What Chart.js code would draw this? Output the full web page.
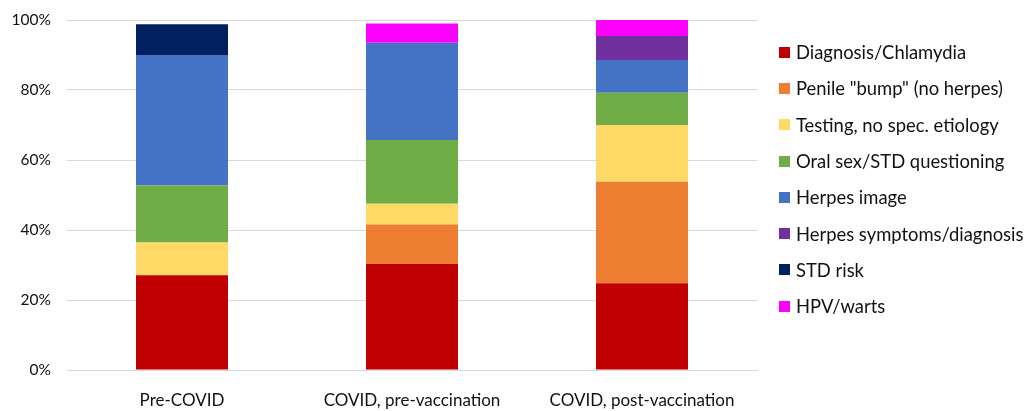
<!DOCTYPE html>
<html>
<head>
<meta charset="utf-8">
<script src="https://cdn.jsdelivr.net/npm/chart.js@4"></script>
<style>
  html, body { margin: 0; padding: 0; background: #fff; }
  #wrap { position: relative; width: 1026px; height: 411px; }
  #legend { position: absolute; left: 779px; top: 34px; margin: 0; padding: 0; list-style: none;
            font-family: Lato, sans-serif; font-size: 18.4px; color: #111; }
  #legend li { height: 36.3px; display: flex; align-items: center; white-space: nowrap; }
  #legend span.box { width: 11px; height: 11px; margin-right: 6px; display: inline-block; }
</style>
</head>
<body>
<div id="wrap">
  <canvas id="chart" width="1026" height="411"></canvas>
  <ul id="legend"></ul>
</div>
<script>
// Категории и значения (в процентах)
const categories = ["Pre-COVID", "COVID, pre-vaccination", "COVID, post-vaccination"];
const diagnosis = [27.1, 30.3, 24.8];
const penileBump = [0, 11.3, 29.0];
const testing = [9.3, 5.9, 16.2];
const oralSex = [16.3, 18.2, 9.2];
const herpesImage = [37.3, 27.8, 9.4];
const herpesSymptoms = [0, 0, 6.8];
const stdRisk = [8.8, 0, 0];
const hpvWarts = [0, 5.5, 4.6];
const yTicks = [0, 20, 40, 60, 80, 100];

const series = [
  { label: "Diagnosis/Chlamydia", data: diagnosis, color: "#C00000" },
  { label: 'Penile "bump" (no herpes)', data: penileBump, color: "#ED7D31" },
  { label: "Testing, no spec. etiology", data: testing, color: "#FFD966" },
  { label: "Oral sex/STD questioning", data: oralSex, color: "#70AD47" },
  { label: "Herpes image", data: herpesImage, color: "#4472C4" },
  { label: "Herpes symptoms/diagnosis", data: herpesSymptoms, color: "#7030A0" },
  { label: "STD risk", data: stdRisk, color: "#002060" },
  { label: "HPV/warts", data: hpvWarts, color: "#FF00FF" },
];

const font = { family: "Lato, sans-serif" };

new Chart(document.getElementById("chart"), {
  type: "bar",
  data: {
    labels: categories,
    datasets: series.map((s) => ({
      label: s.label,
      data: s.data,
      backgroundColor: s.color,
      borderWidth: 0,
      barPercentage: 0.4,
      categoryPercentage: 1,
    })),
  },
  options: {
    responsive: false,
    animation: false,
    layout: { padding: { top: 20, right: 269, bottom: 0, left: 0 } },
    plugins: { legend: { display: false }, tooltip: { enabled: false } },
    scales: {
      x: {
        stacked: true,
        grid: { display: false },
        border: { color: "#d9d9d9" },
        ticks: { color: "#111", font: { ...font, size: 17 }, padding: 12 },
        afterFit: (scale) => { scale.height = 41; scale.paddingLeft = 0; scale.paddingRight = 0; },
      },
      y: {
        stacked: true,
        min: 0,
        max: 100,
        afterBuildTicks: (scale) => { scale.ticks = yTicks.map((v) => ({ value: v })); },
        grid: { color: "#d9d9d9", drawTicks: false },
        border: { display: false },
        ticks: { color: "#111", font: { ...font, size: 15.5 }, padding: 16, callback: (v) => v + "%" },
        afterFit: (scale) => { scale.width = 67; scale.paddingTop = 0; scale.paddingBottom = 0; },
      },
    },
  },
});

// Легенда справа
const legend = document.getElementById("legend");
series.forEach((s) => {
  const li = document.createElement("li");
  const box = document.createElement("span");
  box.className = "box";
  box.style.background = s.color;
  li.appendChild(box);
  li.appendChild(document.createTextNode(s.label));
  legend.appendChild(li);
});
</script>
</body>
</html>
